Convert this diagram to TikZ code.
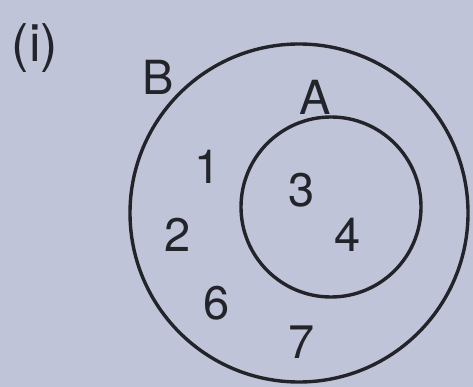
\documentclass[tikz,border=0pt]{standalone}
\usepackage{fontspec}
\setmainfont{TeX Gyre Heros}
\definecolor{bg}{RGB}{192,196,216}
\definecolor{ink}{RGB}{35,35,42}
\begin{document}
\begin{tikzpicture}[x=1pt,y=-1pt,
  lbl/.style={text=ink,font=\fontsize{47}{47}\selectfont,inner sep=0pt},
  setc/.style={draw=ink,line width=3.4pt}]
\fill[bg] (0,0) rectangle (473,387);
\useasboundingbox (0,0) rectangle (473,387);
\node[setc,circle,minimum size=338pt,inner sep=0pt] (B) at (299,213) {};
\node[setc,circle,minimum size=180pt,inner sep=0pt] (A) at (331,207) {};
\node[lbl,font=\fontsize{52}{52}\selectfont] (i) at (35,48) {(i)};
\node[lbl] (lB) at (158,77) {B};
\node[lbl] (lA) at (315,97) {A};
\node[lbl] (n1) at (208,167) {1};
\node[lbl] (n2) at (178,235) {2};
\node[lbl] (n3) at (302,190) {3};
\node[lbl] (n4) at (348,235) {4};
\node[lbl] (n6) at (217,303) {6};
\node[lbl] (n7) at (302,342) {7};
\end{tikzpicture}
\end{document}
